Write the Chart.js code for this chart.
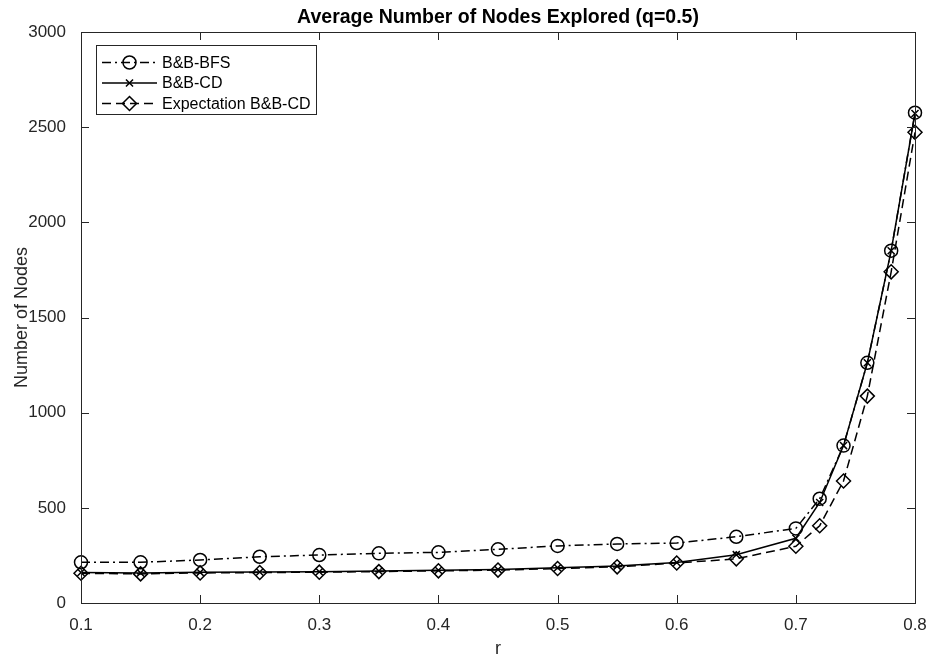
<!DOCTYPE html>
<html>
<head>
<meta charset="utf-8">
<style>
  html, body { margin: 0; padding: 0; background: #fff; }
  #wrap { width: 930px; height: 657px; position: relative; }
</style>
</head>
<body>
<div id="wrap"><canvas id="nodesChart"></canvas></div>

<script src="https://cdn.jsdelivr.net/npm/chart.js"></script>
<script>
// values
const rValues  = [0.1, 0.15, 0.2, 0.25, 0.3, 0.35, 0.4, 0.45, 0.5, 0.55, 0.6, 0.65, 0.7, 0.72, 0.74, 0.76, 0.78, 0.8];
const bfsNodes = [214, 214, 226, 243, 252, 261, 266, 282, 300, 310, 315, 348, 392, 548, 827, 1262, 1851, 2576];
const cdNodes  = [160, 158, 161, 163, 164, 168, 172, 176, 185, 194, 213, 254, 340, 528, 827, 1262, 1851, 2572];
const expNodes = [156, 153, 158, 160, 162, 165, 169, 173, 181, 190, 210, 232, 298, 406, 641, 1087, 1740, 2473];
const seriesNames = ["B&B-BFS", "B&B-CD", "Expectation B&B-CD"];

const chartTitle = "Average Number of Nodes Explored (q=0.5)";
const xTitle = "r";
const yTitle = "Number of Nodes";

const axisColor = "rgb(38,38,38)";
const fontFamily = "'Liberation Sans', Arial, Helvetica, sans-serif";

function toPoints(ys) {
    return rValues.map((x, i) => ({ x: x, y: ys[i] }));
}

function series(label, ys, style, dash, radius) {
    return {
        label: label,
        data: toPoints(ys),
        showLine: true,
        borderColor: "#000",
        borderWidth: 1.5,
        borderDash: dash,
        pointStyle: style,
        pointRadius: radius,
        pointBorderColor: "#000",
        pointBackgroundColor: "rgba(0,0,0,0)",
        pointBorderWidth: 1.5,
        tension: 0,
        clip: false
    };
}

// legend marker, same shapes as the chart points
function marker(ctx, style, r, x, y) {
    ctx.beginPath();
    if (style === "circle") {
        ctx.arc(x, y, r, 0, Math.PI * 2);
    } else if (style === "rectRot") {
        ctx.moveTo(x, y - r); ctx.lineTo(x + r, y); ctx.lineTo(x, y + r); ctx.lineTo(x - r, y);
        ctx.closePath();
    } else {
        const d = r * Math.SQRT1_2;
        ctx.moveTo(x - d, y - d); ctx.lineTo(x + d, y + d);
        ctx.moveTo(x + d, y - d); ctx.lineTo(x - d, y + d);
    }
    ctx.stroke();
}

// box, inside ticks, title, axis titles and the legend drawn MATLAB-like
const matlabAxes = {
    id: "matlabAxes",
    afterDraw(chart) {
        const ctx = chart.ctx;
        const a = chart.chartArea;
        const xs = chart.scales.x, ys = chart.scales.y;
        const tick = 8;
        ctx.save();
        ctx.strokeStyle = axisColor;
        ctx.lineWidth = 1;
        ctx.setLineDash([]);
        ctx.strokeRect(Math.round(a.left) + 0.5, Math.round(a.top) + 0.5,
                       Math.round(a.right - a.left), Math.round(a.bottom - a.top));
        ctx.beginPath();
        xs.ticks.forEach(t => {
            const px = Math.round(xs.getPixelForValue(t.value)) + 0.5;
            ctx.moveTo(px, a.bottom); ctx.lineTo(px, a.bottom - tick);
            ctx.moveTo(px, a.top); ctx.lineTo(px, a.top + tick);
        });
        ys.ticks.forEach(t => {
            const py = Math.round(ys.getPixelForValue(t.value)) + 0.5;
            ctx.moveTo(a.left, py); ctx.lineTo(a.left + tick, py);
            ctx.moveTo(a.right, py); ctx.lineTo(a.right - tick, py);
        });
        ctx.stroke();

        // titles
        const cx = (a.left + a.right) / 2;
        ctx.fillStyle = "#000";
        ctx.textAlign = "center";
        ctx.textBaseline = "alphabetic";
        ctx.font = "bold 19.5px " + fontFamily;
        ctx.fillText(chartTitle, cx, 23);
        ctx.fillStyle = axisColor;
        ctx.font = "18px " + fontFamily;
        ctx.fillText(xTitle, cx, 654);
        ctx.save();
        ctx.translate(27, (a.top + a.bottom) / 2);
        ctx.rotate(-Math.PI / 2);
        ctx.fillText(yTitle, 0, 0);
        ctx.restore();

        // legend box in the upper left
        const lx = 96, ly = 45, lw = 220, lh = 69;
        ctx.fillStyle = "#fff";
        ctx.fillRect(lx, ly, lw, lh);
        ctx.strokeStyle = axisColor;
        ctx.lineWidth = 1;
        ctx.strokeRect(lx + 0.5, ly + 0.5, lw, lh);
        ctx.font = "16px " + fontFamily;
        ctx.textAlign = "left";
        ctx.textBaseline = "middle";
        chart.data.datasets.forEach((ds, i) => {
            const yy = ly + 17.5 + i * 20.5;
            ctx.strokeStyle = "#000";
            ctx.lineWidth = ds.borderWidth;
            ctx.setLineDash(ds.borderDash || []);
            ctx.beginPath();
            ctx.moveTo(lx + 6, yy);
            ctx.lineTo(lx + 61, yy);
            ctx.stroke();
            ctx.setLineDash([]);
            ctx.lineWidth = ds.pointBorderWidth;
            marker(ctx, ds.pointStyle, ds.pointRadius, lx + 33.5, yy);
            ctx.fillStyle = "#000";
            ctx.fillText(ds.label, lx + 66, yy + 1);
        });
        ctx.restore();
    }
};

new Chart(document.getElementById("nodesChart"), {
    type: "scatter",
    data: {
        datasets: [
            series(seriesNames[0], bfsNodes, "circle", [9, 4, 2, 4], 6.5),
            series(seriesNames[1], cdNodes, "crossRot", [], 5),
            series(seriesNames[2], expNodes, "rectRot", [9, 5], 7)
        ]
    },
    plugins: [matlabAxes],
    options: {
        responsive: true,
        maintainAspectRatio: false,
        animation: false,
        layout: { padding: { left: 0, right: 15, top: 32, bottom: 0 } },
        plugins: {
            legend: { display: false },
            tooltip: { enabled: false }
        },
        scales: {
            x: {
                type: "linear",
                min: 0.1,
                max: 0.8,
                grid: { display: false },
                border: { display: false },
                ticks: {
                    stepSize: 0.1,
                    color: axisColor,
                    font: { family: fontFamily, size: 17 },
                    padding: 4,
                    maxRotation: 0,
                    autoSkip: false,
                    callback: v => v.toFixed(1)
                },
                afterFit(scale) {
                    scale.height = 54;
                    scale.paddingLeft = 0;
                    scale.paddingRight = 0;
                }
            },
            y: {
                min: 0,
                max: 3000,
                grid: { display: false },
                border: { display: false },
                ticks: {
                    stepSize: 500,
                    color: axisColor,
                    font: { family: fontFamily, size: 17 },
                    padding: 7,
                    callback: v => String(v)
                },
                afterFit(scale) {
                    scale.width = 81;
                }
            }
        }
    }
});
</script>
</body>
</html>
